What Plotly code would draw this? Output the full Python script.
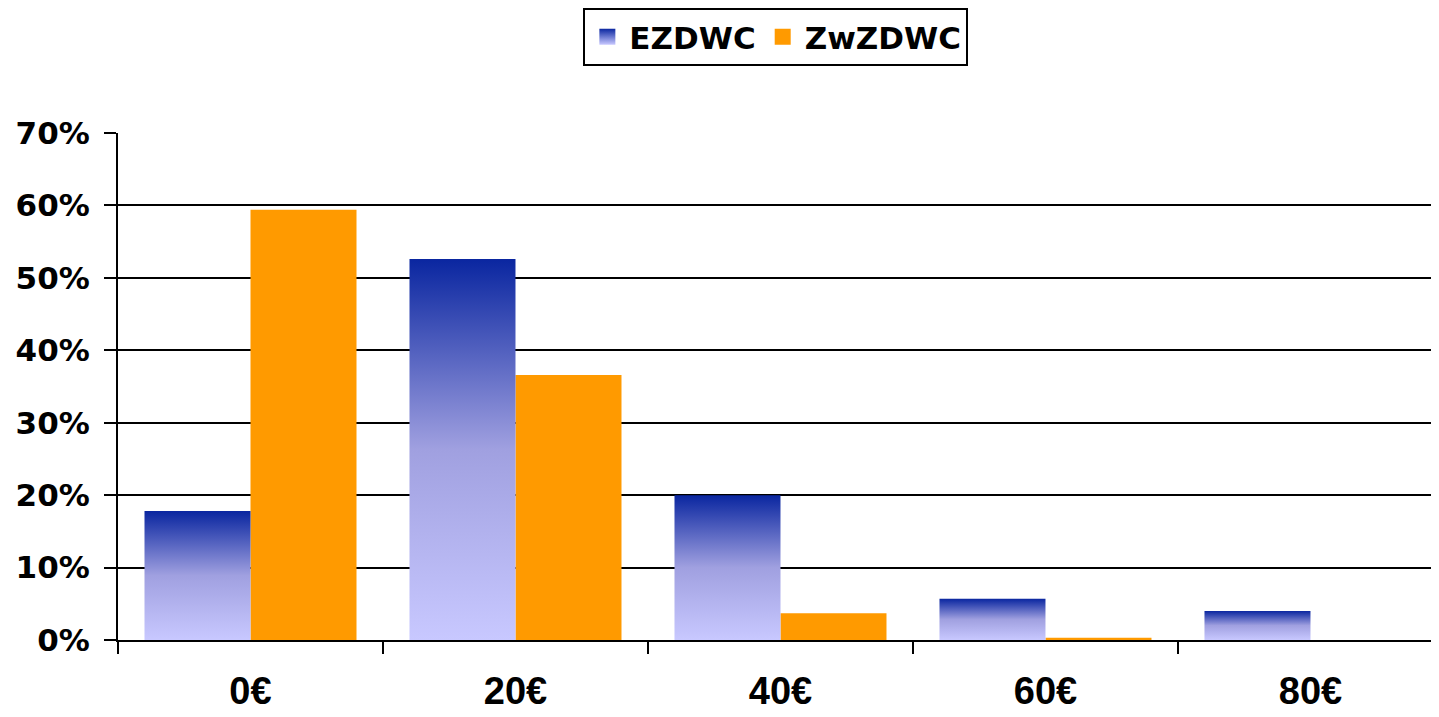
import plotly.graph_objects as go

categories = ["0€", "20€", "40€", "60€", "80€"]
ezdwc = [0.178, 0.526, 0.200, 0.057, 0.040]
zwzdwc = [0.594, 0.366, 0.037, 0.003, 0.0]

BLUE_DARK = "#0a26a0"
BLUE_LIGHT = "#c8c8ff"
BLUE_SCALE = [[0, BLUE_LIGHT], [0.5, "#a0a0e0"], [1, BLUE_DARK]]
ORANGE = "#ff9a00"
# the source chart is stretched: wide glyphs on the legend / y axis, tall ones on the x axis
WIDE_FONT = dict(family="DejaVu Sans, sans-serif", size=31, color="black", weight="bold")
TALL_FONT = dict(family="Liberation Sans, Arial, sans-serif", size=38, color="black", weight="bold")
BAR_W = 0.4

fig = go.Figure()

# gradient bars for EZDWC: one filled polygon per bar so each gets its own gradient
for i, v in enumerate(ezdwc):
    x0, x1 = i - BAR_W, i
    fig.add_trace(go.Scatter(
        x=[x0, x1, x1, x0, x0],
        y=[0, 0, v, v, 0],
        mode="none",
        fill="toself",
        fillgradient=dict(type="vertical", colorscale=BLUE_SCALE),
        showlegend=False,
        hoverinfo="skip",
    ))

fig.add_trace(go.Bar(
    x=list(range(len(categories))),
    y=zwzdwc,
    width=BAR_W,
    offset=0,
    marker=dict(color=ORANGE, line=dict(width=0)),
    showlegend=False,
))

# legend-only entries with larger square swatches
fig.add_trace(go.Scatter(
    x=[None], y=[None], mode="markers", name="EZDWC",
    marker=dict(symbol="square", size=16, color=BLUE_DARK,
                gradient=dict(type="vertical", color=BLUE_LIGHT)),
))
fig.add_trace(go.Scatter(
    x=[None], y=[None], mode="markers", name="ZwZDWC",
    marker=dict(symbol="square", size=16, color=ORANGE),
))

# page body adds an 8px offset, so the figure is 8px smaller than the window
fig.update_layout(
    width=1431,
    height=709,
    margin=dict(l=110, r=0, t=125, b=77, autoexpand=False),
    plot_bgcolor="white",
    paper_bgcolor="white",
    font=WIDE_FONT,
    showlegend=True,
    legend=dict(
        orientation="h",
        x=0.498,
        xanchor="center",
        y=1.2465,
        yanchor="top",
        bordercolor="black",
        borderwidth=2,
        font=WIDE_FONT,
        itemsizing="trace",
        itemwidth=34,
    ),
)

fig.update_xaxes(
    range=[-0.5, 4.485],
    tickmode="array",
    tickvals=list(range(len(categories))),
    ticktext=categories,
    ticks="",
    tickfont=TALL_FONT,
    ticklabelstandoff=16,
    showgrid=False,
    zeroline=False,
    showline=True,
    linecolor="black",
    linewidth=2,
    automargin=False,
    minor=dict(ticks="outside", tick0=-0.5, dtick=1, ticklen=12, tickwidth=2, tickcolor="black", showgrid=False),
)

fig.update_yaxes(
    range=[0, 0.7],
    tickmode="array",
    tickvals=[0, 0.1, 0.2, 0.3, 0.4, 0.5, 0.6, 0.7],
    tickformat=".0%",
    ticks="outside",
    ticklen=12,
    tickwidth=2,
    tickcolor="black",
    tickfont=WIDE_FONT,
    showgrid=True,
    gridcolor="black",
    gridwidth=2,
    zeroline=False,
    showline=True,
    linecolor="black",
    linewidth=2,
    automargin=False,
    ticklabelstandoff=8,
)

fig.write_html("out.html")
